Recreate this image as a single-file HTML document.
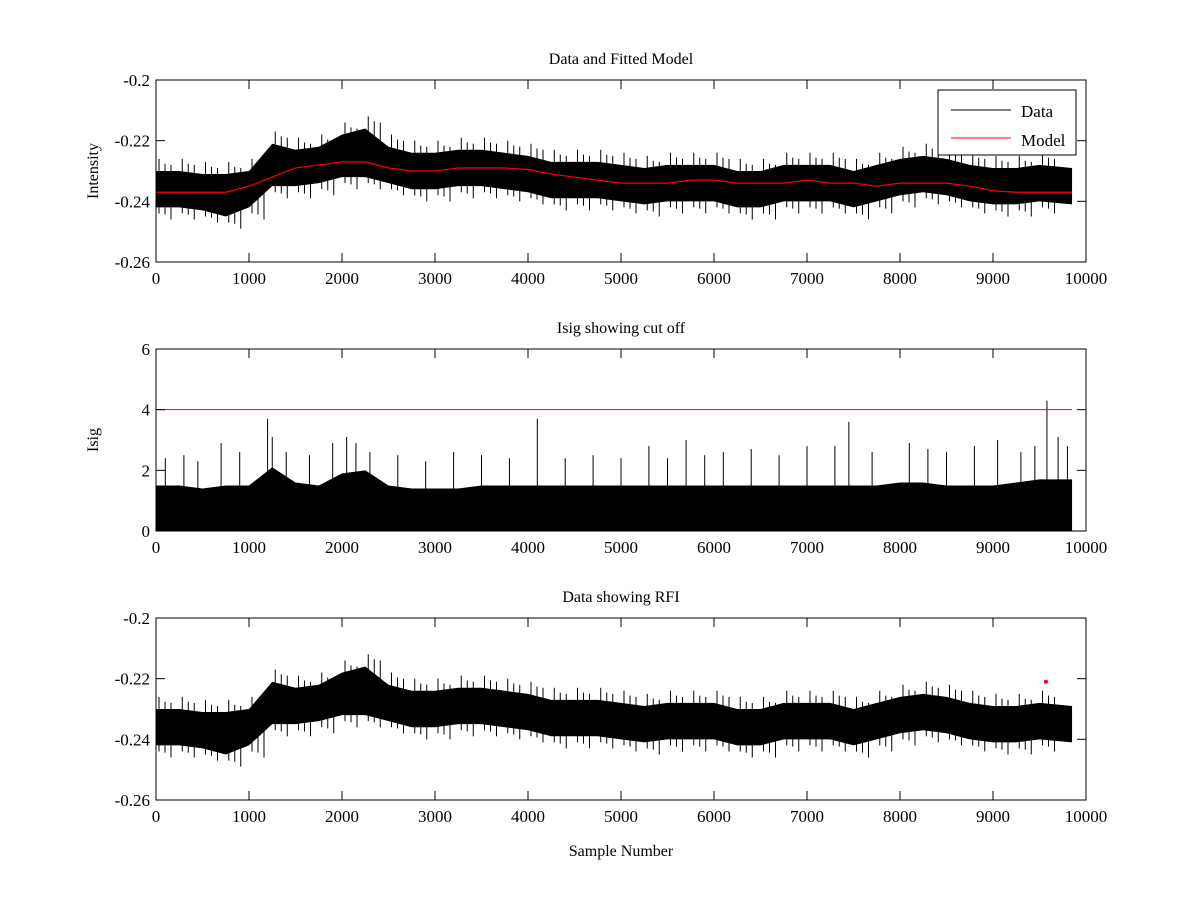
<!DOCTYPE html>
<html><head><meta charset="utf-8"><style>
body{margin:0;background:#fff}
svg{display:block;font-family:"Liberation Serif",serif}
</style></head><body>
<svg id="fig" width="1200" height="900" viewBox="0 0 1200 900"></svg>
<script>
// ---- data (every 250 samples) ----
const samples = [0,250,500,750,1000,1250,1500,1750,2000,2250,2500,2750,3000,3250,3500,3750,4000,4250,4500,4750,5000,5250,5500,5750,6000,6250,6500,6750,7000,7250,7500,7750,8000,8250,8500,8750,9000,9250,9500,9850];
const dataCenter = [-0.236,-0.236,-0.237,-0.238,-0.236,-0.228,-0.229,-0.228,-0.225,-0.224,-0.228,-0.230,-0.230,-0.229,-0.229,-0.230,-0.231,-0.233,-0.233,-0.233,-0.234,-0.235,-0.234,-0.234,-0.234,-0.236,-0.236,-0.234,-0.234,-0.234,-0.236,-0.234,-0.232,-0.231,-0.232,-0.234,-0.235,-0.235,-0.234,-0.235];
const dataHalfWidth = [0.006,0.006,0.006,0.007,0.006,0.007,0.006,0.006,0.007,0.008,0.006,0.006,0.006,0.006,0.006,0.006,0.006,0.006,0.006,0.006,0.006,0.006,0.006,0.006,0.006,0.006,0.006,0.006,0.006,0.006,0.006,0.006,0.006,0.006,0.006,0.006,0.006,0.006,0.006,0.006];
const modelValues = [-0.237,-0.237,-0.237,-0.237,-0.235,-0.232,-0.229,-0.228,-0.227,-0.227,-0.229,-0.230,-0.230,-0.229,-0.229,-0.229,-0.2295,-0.231,-0.232,-0.233,-0.234,-0.234,-0.234,-0.233,-0.233,-0.234,-0.234,-0.234,-0.233,-0.234,-0.234,-0.235,-0.234,-0.234,-0.234,-0.235,-0.2365,-0.237,-0.237,-0.237];
const isigDense = [1.5,1.5,1.4,1.5,1.5,2.1,1.6,1.5,1.9,2.0,1.5,1.4,1.4,1.4,1.5,1.5,1.5,1.5,1.5,1.5,1.5,1.5,1.5,1.5,1.5,1.5,1.5,1.5,1.5,1.5,1.5,1.5,1.6,1.6,1.5,1.5,1.5,1.6,1.7,1.7];
const isigSpikeX = [100,300,450,700,900,1200,1250,1400,1650,1900,2050,2150,2300,2600,2900,3200,3500,3800,4100,4400,4700,5000,5300,5500,5700,5900,6100,6400,6700,7000,7300,7450,7700,8100,8300,8500,8800,9050,9300,9450,9580,9700,9800];
const isigSpikeY = [2.4,2.5,2.3,2.9,2.6,3.7,3.1,2.6,2.5,2.9,3.1,2.9,2.6,2.5,2.3,2.6,2.5,2.4,3.7,2.4,2.5,2.4,2.8,2.4,3.0,2.5,2.6,2.7,2.5,2.8,2.8,3.6,2.6,2.9,2.7,2.6,2.8,3.0,2.6,2.8,4.3,3.1,2.8];
const cutoff = 4;
const rfiX = [9570];
const rfiY = [-0.221];
const xTicks = [0,1000,2000,3000,4000,5000,6000,7000,8000,9000,10000];
const yTicksData = [-0.2,-0.22,-0.24,-0.26];
const yTicksIsig = [0,2,4,6];

const NS="http://www.w3.org/2000/svg", svg=document.getElementById('fig');
function el(t,a,p){const e=document.createElementNS(NS,t);for(const k in a)e.setAttribute(k,a[k]);(p||svg).appendChild(e);return e;}
const X0=156,X1=1086;
const sx=v=>X0+(v/10000)*(X1-X0);
function mkY(top,bot,min,max){return v=>bot-(v-min)/(max-min)*(bot-top);}

function axes(name,top,bot,min,max,yt,ylabel,title,fmt){
  const g=el('g',{});
  
  
  const sy=mkY(top,bot,min,max);
  return {g,sy,finish(){
    el('rect',{x:X0,y:top,width:X1-X0,height:bot-top,fill:'none',stroke:'#000','stroke-width':1},g);
    xTicks.forEach(t=>{const x=sx(t);
      el('line',{x1:x,x2:x,y1:bot,y2:bot-9,stroke:'#000'},g);
      el('line',{x1:x,x2:x,y1:top,y2:top+9,stroke:'#000'},g);
      const tx=el('text',{x:x,y:bot+22,'text-anchor':'middle','font-size':17},g);tx.textContent=t;
      
      });
    yt.forEach(t=>{const y=sy(t);
      el('line',{x1:X0,x2:X0+9,y1:y,y2:y,stroke:'#000'},g);
      el('line',{x1:X1,x2:X1-9,y1:y,y2:y,stroke:'#000'},g);
      const tx=el('text',{x:X0-6,y:y+6,'text-anchor':'end','font-size':17},g);tx.textContent=fmt(t);
      
      });
    const ti=el('text',{x:(X0+X1)/2,y:top-16,'text-anchor':'middle','font-size':16},g);ti.textContent=title;
    
    
    if(ylabel){const yl=el('text',{x:0,y:0,'text-anchor':'middle','font-size':16,transform:`translate(${X0-58},${(top+bot)/2}) rotate(-90)`},g);yl.textContent=ylabel;
      
      }
  }};
}
const fmtD=t=>t===0?'0':String(t);

function band(g,sy,c,hw,spike){
  let up=[],lo=[];
  samples.forEach((s,i)=>{up.push(sx(s)+','+sy(c[i]+hw[i]));lo.push(sx(s)+','+sy(c[i]-hw[i]));});
  const p=el('polygon',{points:up.concat(lo.reverse()).join(' '),fill:'#000'},g);
  
  
  samples.forEach((s,i)=>{ if(i<samples.length-1){
    [3,9,15].forEach((o,k)=>{
      const e=spike*(k===1?0.6:1);
      el('line',{x1:sx(s)+o,x2:sx(s)+o,y1:sy(c[i]+hw[i]+e*(k===2?0.5:1)),y2:sy(c[i]-hw[i]-e*(k===0?0.5:1)),stroke:'#000','stroke-width':1},g);});}});
}

// Panel 1
const A=axes('data-fitted-axes',80,262,-0.26,-0.2,yTicksData,'Intensity','Data and Fitted Model',fmtD);
band(A.g,A.sy,dataCenter,dataHalfWidth,0.004);
const mp=el('polyline',{points:samples.map((s,i)=>sx(s)+','+A.sy(modelValues[i])).join(' '),fill:'none',stroke:'#f00','stroke-width':1.2},A.g);


A.finish();
const lg=el('g',{},A.g);


el('rect',{x:938,y:90,width:138,height:65,fill:'#fff',stroke:'#000'},lg);
el('line',{x1:951,x2:1011,y1:110,y2:110,stroke:'#000'},lg);
el('line',{x1:951,x2:1011,y1:138,y2:138,stroke:'#f00'},lg);
let t1=el('text',{x:1021,y:117,'font-size':17},lg);t1.textContent='Data';


let t2=el('text',{x:1021,y:146,'font-size':17},lg);t2.textContent='Model';



// Panel 2
const B=axes('isig-axes',349,531,0,6,yTicksIsig,'Isig','Isig showing cut off',fmtD);
let up=samples.map((s,i)=>sx(s)+','+B.sy(isigDense[i]));
const ip=el('polygon',{points:[sx(0)+','+B.sy(0)].concat(up,[sx(9850)+','+B.sy(0)]).join(' '),fill:'#000'},B.g);


isigSpikeX.forEach((s,i)=>{const l=el('line',{x1:sx(s),x2:sx(s),y1:B.sy(0),y2:B.sy(isigSpikeY[i]),stroke:'#000'},B.g);
  
  });
const cl=el('line',{x1:sx(0),x2:sx(9850),y1:B.sy(cutoff),y2:B.sy(cutoff),stroke:'#f00','stroke-width':1},B.g);


B.finish();

// Panel 3
const C=axes('rfi-axes',618,800,-0.26,-0.2,yTicksData,null,'Data showing RFI',fmtD);
band(C.g,C.sy,dataCenter,dataHalfWidth,0.004);
rfiX.forEach((s,i)=>{const d=el('circle',{cx:sx(s),cy:C.sy(rfiY[i]),r:2,fill:'#f00'},C.g);
  
  });
C.finish();
const xl=el('text',{x:(X0+X1)/2,y:856,'text-anchor':'middle','font-size':16});xl.textContent='Sample Number';


</script>
</body></html>
